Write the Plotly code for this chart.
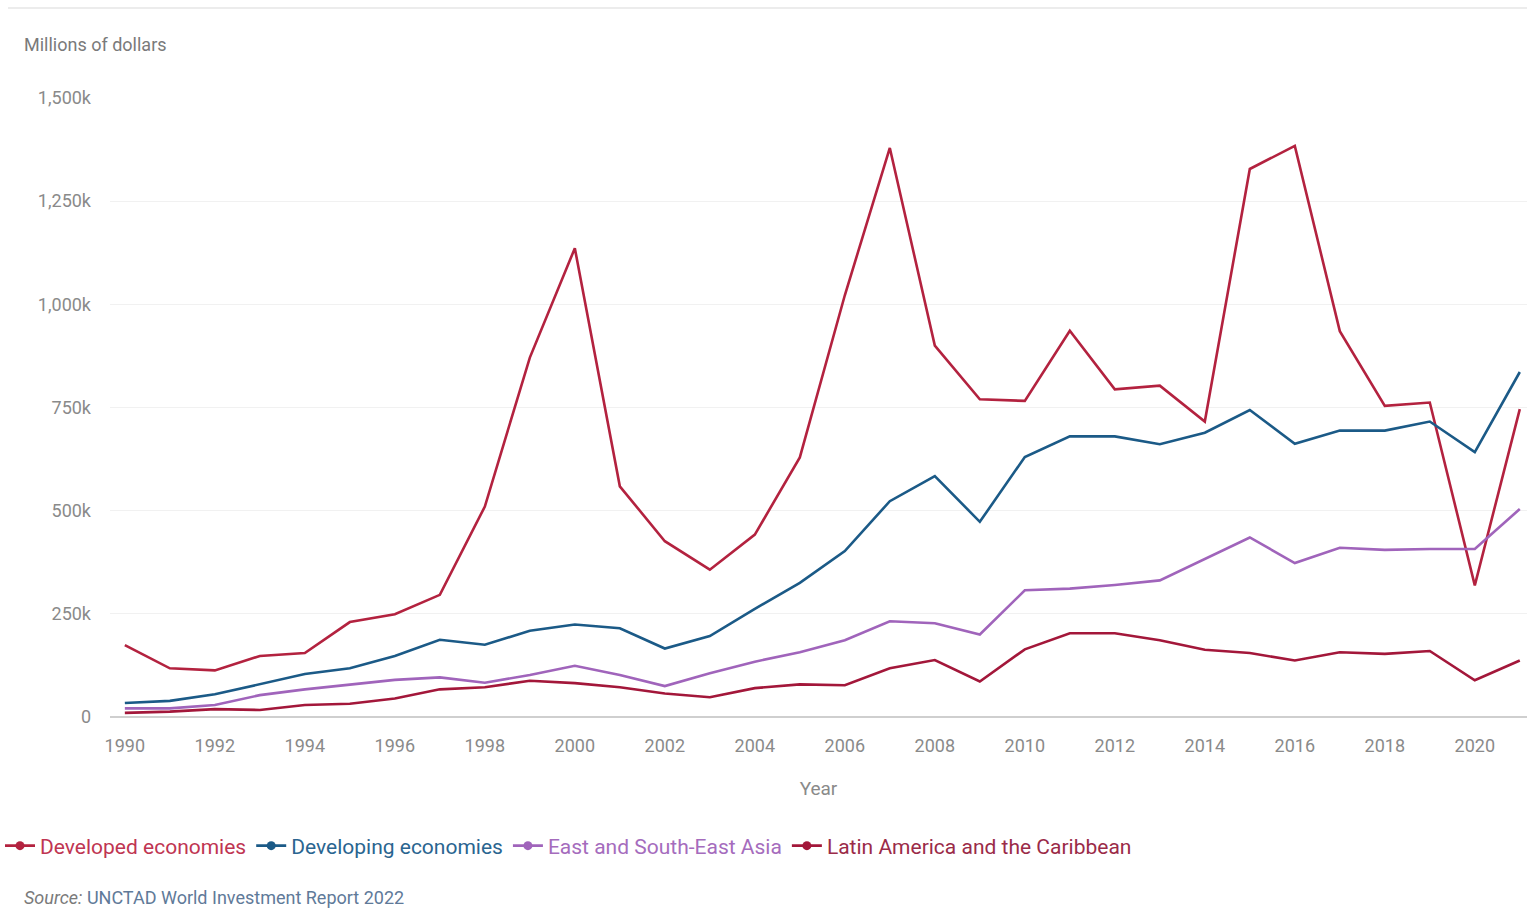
import plotly.graph_objects as go

# FDI inflows, millions of US dollars
years = list(range(1990, 2022))

developed = [174000, 118000, 113000, 148000, 155000, 230000, 249000, 296000, 510000, 871000,
             1136000, 559000, 426000, 357000, 442000, 629000, 1022000, 1379000, 900000, 770000,
             766000, 936000, 794000, 803000, 716000, 1328000, 1384000, 935000, 754000, 762000,
             319000, 746000]
developing = [34000, 39000, 55000, 79000, 104000, 118000, 148000, 187000, 175000, 209000,
              224000, 215000, 166000, 196000, 262000, 325000, 402000, 523000, 584000, 473000,
              630000, 680000, 680000, 661000, 689000, 744000, 662000, 694000, 694000, 716000,
              642000, 836000]
east_se_asia = [21000, 21000, 29000, 53000, 67000, 78000, 90000, 96000, 83000, 102000,
                124000, 102000, 75000, 106000, 134000, 157000, 186000, 232000, 227000, 200000,
                307000, 311000, 320000, 331000, 382000, 435000, 373000, 410000, 405000, 407000,
                407000, 504000]
latin_america = [10000, 13000, 19000, 17000, 29000, 32000, 45000, 67000, 72000, 88000,
                 82000, 72000, 57000, 48000, 70000, 79000, 77000, 118000, 138000, 86000,
                 164000, 203000, 203000, 186000, 163000, 155000, 137000, 157000, 153000, 160000,
                 89000, 137000]

series_names = ["Developed economies", "Developing economies",
                "East and South-East Asia", "Latin America and the Caribbean"]
series_values = [developed, developing, east_se_asia, latin_america]
series_colors = ["#b3223f", "#1b5a87", "#a064bb", "#a3173a"]
legend_text_colors = ["#c03552", "#2a6590", "#a56cbd", "#9b2b48"]

y_tickvals = [0, 250000, 500000, 750000, 1000000, 1250000, 1500000]
y_ticktext = ["0", "250k", "500k", "750k", "1,000k", "1,250k", "1,500k"]
x_tickvals = list(range(1990, 2021, 2))

FONT = "Roboto, 'Open Sans', sans-serif"
W, H = 1527, 910
LEFT, TOP, BOTTOM = 110, 98, 193

fig = go.Figure()

for name, vals, col in zip(series_names, series_values, series_colors):
    fig.add_trace(go.Scatter(
        x=years, y=vals, mode="lines", name=name,
        line=dict(color=col, width=2.6),
        showlegend=False,
        hovertemplate="%{x}: %{y:,.0f}<extra>" + name + "</extra>",
    ))

# legend entries: line with a dot, label tinted like its series
for name, col, tcol in zip(series_names, series_colors, legend_text_colors):
    fig.add_trace(go.Scatter(
        x=[None], y=[None], mode="lines+markers", name=f"<span style='color:{tcol}'>{name}</span>",
        line=dict(color=col, width=2.6),
        marker=dict(color=col, size=9),
        showlegend=True,
    ))

fig.update_layout(
    width=W, height=H,
    margin=dict(l=LEFT, r=0, t=TOP, b=BOTTOM),
    paper_bgcolor="white", plot_bgcolor="white",
    font=dict(family=FONT, size=18, color="#8a8a8a"),
    showlegend=True,
    legend=dict(
        orientation="h",
        xref="container", yref="container",
        x=0.0, y=1 - 846 / H, xanchor="left", yanchor="middle",
        font=dict(family=FONT, size=21),
        itemclick=False, itemdoubleclick=False,
        bgcolor="rgba(0,0,0,0)",
    ),
    xaxis=dict(
        range=[1989.67, 2021.16],
        tickvals=x_tickvals,
        ticks="", showgrid=False, zeroline=False,
        showline=False,
        tickfont=dict(size=18, color="#8a8a8a"),
        ticklabelstandoff=16,
        title=dict(text="Year", font=dict(size=19, color="#8a8a8a"), standoff=26),
        fixedrange=True,
    ),
    yaxis=dict(
        range=[0, 1500000],
        tickvals=y_tickvals, ticktext=y_ticktext,
        ticks="", showgrid=True, gridcolor="#f1f1f1", gridwidth=1,
        zeroline=True, zerolinecolor="#cfcfcf", zerolinewidth=2,
        showline=False,
        tickfont=dict(size=18, color="#8a8a8a"),
        ticklabelstandoff=18,
        fixedrange=True,
    ),
    annotations=[
        dict(text="Millions of dollars", xref="paper", yref="paper",
             x=(22 - LEFT) / (W - LEFT), y=1 + (TOP - 45) / (H - TOP - BOTTOM),
             xanchor="left", yanchor="middle", showarrow=False,
             font=dict(family=FONT, size=18, color="#7a7a7a")),
        dict(text="<i>Source:</i> <span style='color:#5f7a99'>UNCTAD World Investment Report 2022</span>",
             xref="paper", yref="paper",
             x=(22 - LEFT) / (W - LEFT), y=-(897 - (H - BOTTOM)) / (H - TOP - BOTTOM),
             xanchor="left", yanchor="middle", showarrow=False,
             font=dict(family=FONT, size=18, color="#7a7a7a")),
    ],
    shapes=[
        dict(type="line", xref="paper", yref="paper",
             x0=(8 - LEFT) / (W - LEFT), x1=1,
             y0=1 + (TOP - 8) / (H - TOP - BOTTOM), y1=1 + (TOP - 8) / (H - TOP - BOTTOM),
             line=dict(color="#e6e6e6", width=1.5)),
    ],
)

fig.write_html("out.html", config={"displayModeBar": False})
